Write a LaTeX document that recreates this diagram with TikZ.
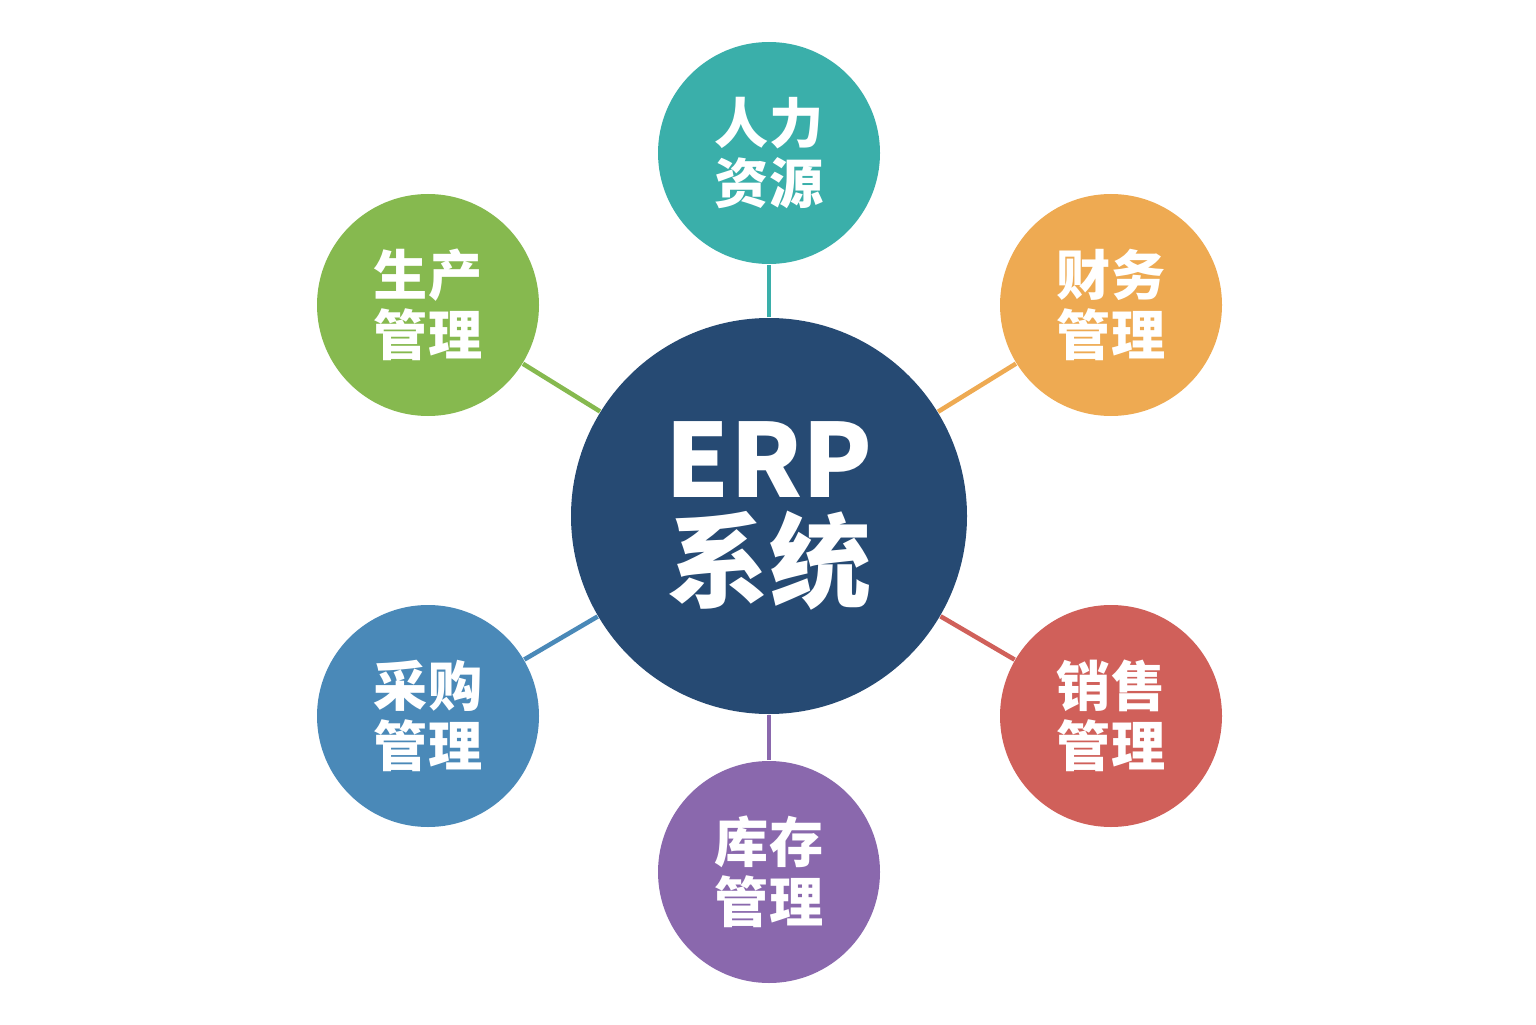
\documentclass[tikz,border=0pt]{standalone}
\usepackage{fontspec}
\setmainfont{Noto Sans CJK SC}
\usepackage{tikz}
\usetikzlibrary{positioning}

\definecolor{erpblue}{HTML}{264A73}
\definecolor{hrteal}{HTML}{3AAFAA}
\definecolor{finorange}{HTML}{EEAA52}
\definecolor{salesred}{HTML}{D0605A}
\definecolor{stockpurple}{HTML}{8A68AD}
\definecolor{buyblue}{HTML}{4A89B8}
\definecolor{prodgreen}{HTML}{86B94F}

\begin{document}
\begin{tikzpicture}[
  hub/.style={circle, fill=erpblue, text=white, minimum size=3.96cm, inner sep=0pt,
    align=center, font=\fontsize{29}{29}\selectfont\bfseries},
  module/.style={circle, fill=#1, text=white, minimum size=2.22cm, inner sep=0pt,
    align=center, font=\fontsize{15.4}{17}\selectfont\bfseries},
  link/.style={draw=#1, line width=1.3pt}
]
  \useasboundingbox (0,0) rectangle (15.36,10.24);

  % --- nodes ---
  \node (erp) [hub] at (7.69,5.08) {ERP\\系统};
  \node (hr)    [module=hrteal]      at (7.69,8.71)  {人力\\资源};
  \node (fin)   [module=finorange]   at (11.11,7.19) {财务\\管理};
  \node (sales) [module=salesred]    at (11.11,3.08) {销售\\管理};
  \node (stock) [module=stockpurple] at (7.69,1.52)  {库存\\管理};
  \node (buy)   [module=buyblue]     at (4.28,3.08)  {采购\\管理};
  \node (prod)  [module=prodgreen]   at (4.28,7.19)  {生产\\管理};

  % --- links ---
  \draw [link=hrteal]      (erp) -- (hr);
  \draw [link=finorange]   (erp) -- (fin);
  \draw [link=salesred]    (erp) -- (sales);
  \draw [link=stockpurple] (erp) -- (stock);
  \draw [link=buyblue]     (erp) -- (buy);
  \draw [link=prodgreen]   (erp) -- (prod);
\end{tikzpicture}
\end{document}
